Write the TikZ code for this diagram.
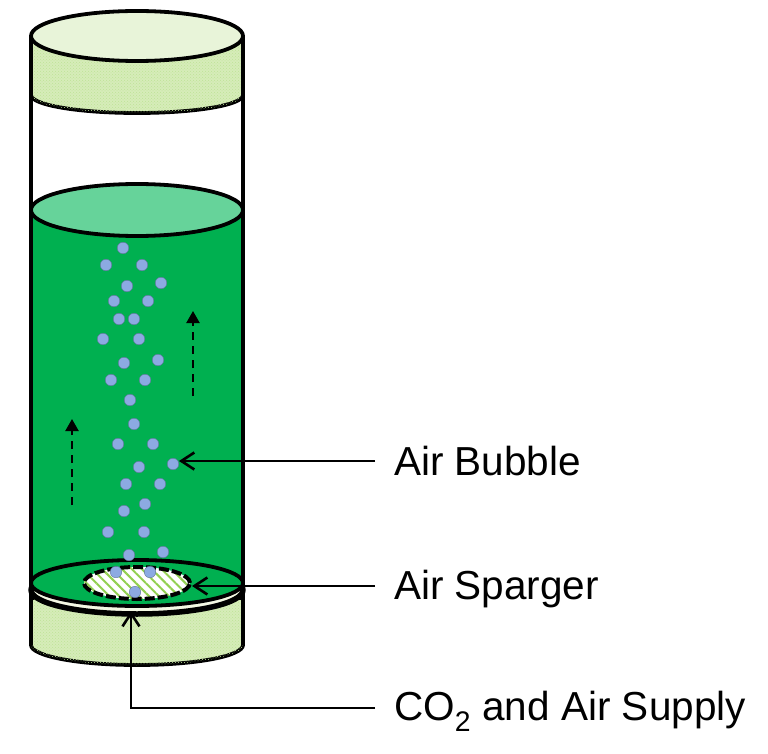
\documentclass[tikz,border=0pt]{standalone}
\usepackage{fontspec}
\setmainfont{Liberation Sans}
\usetikzlibrary{arrows.meta}
\usetikzlibrary{patterns}
\usetikzlibrary{patterns.meta}
\usetikzlibrary{shapes.geometric}
\definecolor{culture}{HTML}{00B050}
\definecolor{surface}{HTML}{66D39A}
\definecolor{lidside}{HTML}{D6ECB9}
\definecolor{lidtop}{HTML}{E8F4D9}
\definecolor{hatch}{HTML}{92D050}
\definecolor{gapfill}{HTML}{F4F8E4}
\definecolor{bubblefill}{HTML}{8CAAE2}
\tikzset{
  wall/.style={line width=3.8pt,line join=round,black},
  capside/.style={wall,fill=lidside,postaction={pattern=crosshatch dots,pattern color=hatch!60}},
  bubble/.style={circle,fill=bubblefill,draw=bubblefill!70!black,line width=0.4pt,minimum size=11.5pt,inner sep=0pt},
  callout/.style={line width=2.6pt,-{Straight Barb[length=13pt,width=17pt]}},
  flowup/.style={line width=2.2pt,dash pattern=on 8pt off 6pt,-{Triangle[length=12pt,width=13pt]}},
  tag/.style={anchor=base west,inner sep=0pt,font=\fontsize{40.5}{44}\selectfont}
}
\begin{document}
\begin{tikzpicture}[x=1pt,y=-1pt]
      \useasboundingbox (0,0) rectangle (768,754);
      % bottom cap and gas gap
      \draw[capside] (31,598) -- (31,645) arc[start angle=180,end angle=0,x radius=106,y radius=20] -- (243,598) -- cycle;
      \draw[wall,line width=5.5pt,fill=gapfill] (137,590) ellipse[x radius=106,y radius=24];
      % culture
      \fill[culture] (31,210) rectangle (243,583);
      \draw[wall,fill=culture] (137,583) ellipse[x radius=106,y radius=23];
      \draw[wall,fill=surface] (137,210) ellipse[x radius=106,y radius=26];
      % top cap
      \draw[capside] (31,36) -- (31,95) arc[start angle=180,end angle=0,x radius=106,y radius=18] -- (243,36) -- cycle;
      \draw[wall,fill=lidtop] (137,36) ellipse[x radius=106,y radius=25];
      % tube walls
      \draw[wall] (31,36) -- (31,645);
      \draw[wall] (243,36) -- (243,645);
      % sparger
      \node[ellipse,fill=white,minimum width=106pt,minimum height=32pt,inner sep=0pt] (whiteplate) at (137,583) {};
      \node[ellipse,pattern={Lines[angle=-45,distance=7pt,line width=2pt]},pattern color=hatch,draw=black,line width=4pt,dash pattern=on 10pt off 3pt,minimum width=106pt,minimum height=32pt,inner sep=0pt] (sparger) at (137,583) {};
      % bubbles
      \foreach \bx/\by/\bname in {123/248/b1,106/265/b2,142/265/b3,127/286/b4,161/283/b5,114/301/b6,148/301/b7,119/319/b8,134/319/b9,103/339/b10,139/339/b11,124/363/b12,158/360/b13,111/380/b14,145/380/b15,130/400/b16,134/424/b17,118/444/b18,153/444/b19,173/464/airbubble,139/467/b21,126/484/b22,160/484/b23,145/504/b24,124/511/b25,108/532/b26,144/532/b27,129/555/b28,163/552/b29,116/572/b30,150/572/b31,135/592/b32}
        \node[bubble] (\bname) at (\bx,\by) {};
      % rising flow
      \coordinate (riseafoot) at (193,396);
      \coordinate (riseahead) at (193,311);
      \coordinate (risebfoot) at (72,505);
      \coordinate (risebhead) at (72,419);
      \draw[flowup] (riseafoot) to (riseahead);
      \draw[flowup] (risebfoot) to (risebhead);
      % labels
      \node[tag] (lblbubble) at (394,475) {Air Bubble};
      \node[tag] (lblsparger) at (394,599) {Air Sparger};
      \node[tag] (lblsupply) at (394,720) {CO\textsubscript{2} and Air Supply};
      \coordinate (bubbleline) at (375,461);
      \coordinate (spargerline) at (375,586);
      \coordinate (supplyline) at (375,708);
      \coordinate (supplyend) at (131,611);
      \draw[callout] (bubbleline) to (airbubble.east |- bubbleline);
      \draw[callout] (spargerline) to (sparger.east |- spargerline);
      \draw[callout] (supplyline) -| (supplyend);
    \end{tikzpicture}
\end{document}
